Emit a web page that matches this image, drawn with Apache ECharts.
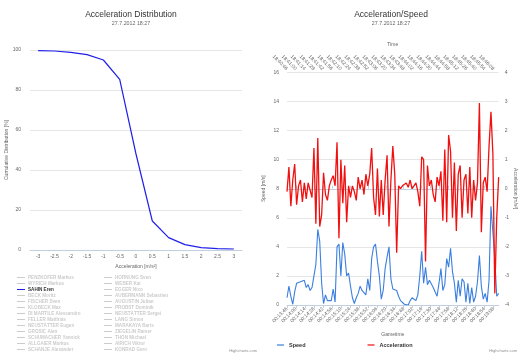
<!DOCTYPE html>
<html>
<head>
<meta charset="utf-8">
<script src="https://cdn.jsdelivr.net/npm/echarts@6/dist/echarts.min.js"></script>
<style>
  html, body { margin: 0; padding: 0; background: #fff; }
  #main { width: 519px; height: 355px; }
</style>
</head>
<body>
<div id="main"></div>
<script>
// left chart: cumulative acceleration distribution
const accCategories = ["-3", "-2.5", "-2", "-1.5", "-1", "-0.5", "0", "0.5", "1", "1.5", "2", "2.5", "3"]
const sahinDistribution = [99.7, 99.5, 98.8, 97.7, 95.0, 85.3, 48, 14.5, 6.2, 2.7, 1.2, 0.7, 0.5]
const playersCol1 = ["PENZKOFER Markus", "WYRICH Markus", "SAHIN Eren", "BECK Moritz", "FISCHER Sven", "KLOBECK Max",
  "DI MARTILE Alessandro", "FELLER Matthias", "NEUSTÄTTER Eugen", "GROSIC Alen", "SCHUMACHER Yannick",
  "ALLGAIER Markus", "SCHANJE Alexander"]
const playersCol2 = ["HORNUNG Sven", "WEBER Kai", "EGGER Nico", "AUBERMANN Sebastien", "AUGUSTIN Julian",
  "PROBST Dominik", "NEUSTÄTTER Sergei", "LANG Simon", "MARAKAYA Baris", "ZIEGELIN Rainer", "THON Michael",
  "AIRICH Viktor", "KONRAD Gero"]
const shownPlayer = "SAHIN Eren"

// right chart: one sample every 3 s of gametime, from 00:13:46
const gameStart = 826
const sampleStep = 3
const clockOffset = 66420 // wall clock = gametime + 18:27:00
const speed = [0.5, 1.3, 0.6, 0.05, 0.9, 1.5, 1.4, 1.6, 1.5, 1.7, 1.2, 1.4, 1.0, 1.2, 1.3, 2.8, 5.2, 4.4, 1.5, 0.1,
  0.7, 0.3, 0.2, 0.3, 1.1, 0.2, 4.0, 4.2, 2.0, 4.3, 3.5, 2.0, 2.2, 1.3, 0.5, 0.1, 0.5, 0.8, 1.3, 1.0,
  0.9, 0.7, 1.8, 1.0, 3.2, 4.0, 4.2, 3.0, 2.0, 0.4, 1.0, 2.5, 3.3, 4.0, 1.8, 1.1, 1.2, 1.0, 0.6, 0.3,
  0.2, 0.05, 0.1, 0.0, 0.3, 0.5, 0.4, 0.3, 0.7, 2.0, 3.7, 1.5, 2.6, 1.4, 1.7, 1.6, 1.2, 0.9, 0.6, 1.5,
  2.5, 1.0, 1.4, 3.2, 2.6, 3.9, 2.3, 1.5, 0.2, 1.7, 0.6, 1.8, 1.6, 0.2, 1.5, 0.1, 1.2, 0.2, 0.6, 1.6,
  3.4, 1.3, 0.4, 0.8, 0.2, 1.7, 6.8, 6.9, 3.2, 0.6, 0.8]
const acceleration = [-0.1, 0.75, -0.6, 0.3, 0.85, -0.55, 0.1, 0.3, -0.45, 0.2, -0.35, 0.2, 0.15, -0.3, 1.4, -1.2, 1.75, -1.3, -0.9, 0.55,
  -0.2, -0.4, 0.1, 0.3, 0.45, 0.1, 1.6, -1.7, 1.0, -0.5, 0.8, -1.15, 0.1, -0.3, 0.1, -0.1, -0.4, 0.4, 0.0, 0.3,
  -0.2, 0.5, 0.1, 0.5, 1.4, -0.3, -0.9, 0.7, -0.95, 0.3, -0.9, 0.3, 1.15, -1.3, 0.3, 1.47, 0.5, -2.2, 0.1, 0.0,
  0.1, 0.15, 0.2, 0.05, 0.3, 0.0, 0.1, 0.2, -0.1, -0.6, 1.1, 1.0, -2.5, 0.8, 0.1, 0.3, -0.2, -0.45, 0.4, 0.1,
  0.6, -1.1, 1.35, -1.15, 1.85, 1.3, -1.0, 0.9, -1.45, 0.5, 0.8, -1.0, 0.3, 0.5, -0.85, 0.75, -1.0, 0.3, -0.4, 0.2,
  2.95, -1.5, 0.2, 0.4, -0.1, 1.45, 2.65, 1.2, -3.6, -1.0, 0.4]

const font = "Liberation Sans"
const gridColor = "#e6e6e6"
const axisColor = "#c0d0e0"

function hms(s) {
  const h = Math.floor(s / 3600), m = Math.floor((s % 3600) / 60), sec = s % 60
  return [h, m, sec].map(v => String(v).padStart(2, "0")).join(":")
}

const gameEnd = gameStart + sampleStep * (speed.length - 1)
const speedData = speed.map((v, i) => [gameStart + i * sampleStep, v])
const accData = acceleration.map((v, i) => [gameStart + i * sampleStep, v])

const selected = {}
playersCol1.concat(playersCol2).forEach(n => { selected[n] = n === shownPlayer })

const playerSeries = playersCol1.concat(playersCol2).map(name => ({
  name: name,
  type: "line",
  xAxisIndex: 0,
  yAxisIndex: 0,
  symbol: "none",
  color: name === shownPlayer ? "#2020e8" : "#7cb5ec",
  lineStyle: { width: 1.2 },
  data: name === shownPlayer ? sahinDistribution : []
}))

const legendBase = {
  orient: "vertical",
  icon: "rect",
  itemWidth: 8,
  itemHeight: 1,
  itemGap: 1,
  selectedMode: false,
  inactiveColor: "#cccccc",
  textStyle: { fontFamily: font, fontSize: 4.6, lineHeight: 4.35, fontWeight: "bold", color: "#333", padding: [0, 0, 0, -2] },
  padding: 0
}

const labelStyle = { fontFamily: font, fontSize: 5, color: "#666" }
const nameStyle = { fontFamily: font, fontSize: 5, color: "#666" }

const option = {
  animation: false,
  title: [
    {
      text: "Acceleration Distribution", subtext: "27.7.2012 18:27",
      left: 131, top: 10, textAlign: "center", itemGap: 2, padding: 0,
      textStyle: { fontFamily: font, fontSize: 8.5, fontWeight: "normal", color: "#333" },
      subtextStyle: { fontFamily: font, fontSize: 5.3, color: "#666" }
    },
    {
      text: "Acceleration/Speed", subtext: "27.7.2012 18:27",
      left: 391, top: 10, textAlign: "center", itemGap: 2, padding: 0,
      textStyle: { fontFamily: font, fontSize: 8.5, fontWeight: "normal", color: "#333" },
      subtextStyle: { fontFamily: font, fontSize: 5.3, color: "#666" }
    }
  ],
  legend: [
    Object.assign({}, legendBase, { left: 17, top: 275, data: playersCol1, selected: selected }),
    Object.assign({}, legendBase, { left: 104, top: 275, data: playersCol2, selected: selected }),
    {
      left: 277, top: 342, icon: "rect", itemWidth: 7, itemHeight: 1.2, itemGap: 62, itemTextGap: 3,
      selectedMode: false, padding: 0,
      textStyle: { fontFamily: font, fontSize: 5.5, fontWeight: "bold", color: "#333" },
      data: ["Speed", "Acceleration"]
    }
  ],
  grid: [
    { left: 30, right: 277, top: 50, bottom: 105 },
    { left: 287, right: 18, top: 72.5, bottom: 50 }
  ],
  xAxis: [
    {
      gridIndex: 0, type: "category", data: accCategories, boundaryGap: true,
      name: "Acceleration [m/s²]", nameLocation: "middle", nameGap: 13, nameTextStyle: nameStyle,
      axisLine: { lineStyle: { color: axisColor } },
      axisTick: { length: 4, lineStyle: { color: axisColor } },
      axisLabel: Object.assign({ interval: 0, margin: 4 }, labelStyle)
    },
    {
      gridIndex: 1, type: "value", min: gameStart, max: gameEnd, interval: 14,
      name: "Gametime", nameLocation: "middle", nameGap: 27, nameTextStyle: nameStyle,
      axisLine: { lineStyle: { color: axisColor } },
      axisTick: { length: 3, lineStyle: { color: axisColor } },
      splitLine: { show: false },
      axisLabel: Object.assign({ rotate: 45, margin: 3, showMaxLabel: false, formatter: v => hms(v) }, labelStyle)
    },
    {
      gridIndex: 1, type: "value", position: "top", min: gameStart, max: gameEnd, interval: 14,
      name: "Time", nameLocation: "middle", nameGap: 25, nameTextStyle: nameStyle,
      axisLine: { lineStyle: { color: axisColor } },
      axisTick: { length: 3, lineStyle: { color: axisColor } },
      splitLine: { show: false },
      axisLabel: Object.assign({ rotate: -45, margin: 3, showMaxLabel: false, formatter: v => hms(v + clockOffset) }, labelStyle)
    }
  ],
  yAxis: [
    {
      gridIndex: 0, type: "value", min: 0, max: 100, interval: 20,
      name: "Cumulative Distribution [%]", nameLocation: "middle", nameGap: 21, nameTextStyle: nameStyle,
      axisLine: { show: false }, axisTick: { show: false },
      splitLine: { lineStyle: { color: gridColor } },
      axisLabel: Object.assign({ margin: 9 }, labelStyle)
    },
    {
      gridIndex: 1, type: "value", min: 0, max: 16, interval: 2,
      name: "Speed [m/s]", nameLocation: "middle", nameGap: 21, nameTextStyle: nameStyle,
      axisLine: { show: false }, axisTick: { show: false },
      splitLine: { lineStyle: { color: gridColor } },
      axisLabel: Object.assign({ margin: 8 }, labelStyle)
    },
    {
      gridIndex: 1, type: "value", position: "right", min: -4, max: 4, interval: 1,
      name: "Acceleration [m/s²]", nameLocation: "middle", nameGap: 14, nameRotate: -90, nameTextStyle: nameStyle,
      axisLine: { show: false }, axisTick: { show: false },
      splitLine: { show: false },
      axisLabel: Object.assign({ margin: 6 }, labelStyle)
    }
  ],
  series: playerSeries.concat([
    {
      name: "Speed", type: "line", xAxisIndex: 1, yAxisIndex: 1, symbol: "none",
      color: "#3a7fe0", lineStyle: { width: 1.1 }, data: speedData
    },
    {
      name: "Acceleration", type: "line", xAxisIndex: 1, yAxisIndex: 2, symbol: "none",
      color: "#f01010", lineStyle: { width: 1.3 }, data: accData
    }
  ]),
  graphic: [
    { type: "text", right: 262, bottom: 2, style: { text: "Highcharts.com", font: "4px " + font, fill: "#909090" } },
    { type: "text", right: 2, bottom: 2, style: { text: "Highcharts.com", font: "4px " + font, fill: "#909090" } }
  ]
}

const chart = echarts.init(document.getElementById("main"))
chart.setOption(option)
</script>
</body>
</html>
